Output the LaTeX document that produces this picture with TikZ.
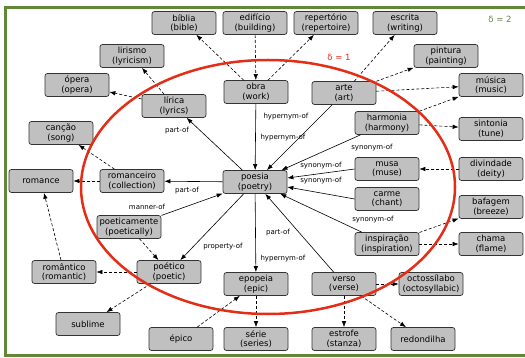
\documentclass[tikz,border=0pt]{standalone}
\usepackage{fontspec}
\setmainfont{DejaVu Sans}
\usepackage{tikz}
\usetikzlibrary{arrows.meta}
\definecolor{deltared}{RGB}{228,45,22}
\definecolor{deltagreen}{RGB}{96,136,56}
\definecolor{boxgray}{RGB}{192,192,192}
\tikzset{>={Latex[length=6pt,width=4.5pt]}}
\tikzset{concept/.style = {draw=black!80, fill=boxgray, rounded corners=2.5,
                           line width=0.7, minimum width=64, minimum height=23,
                           inner sep=1, align=center,
                           font=\fontsize{8.5}{9.5}\selectfont}}
\tikzset{rel/.style = {->, line width=0.6}}
\tikzset{assoc/.style = {->, line width=0.6, dash pattern=on 3pt off 2pt}}
\tikzset{lbl/.style = {font=\fontsize{7}{8}\selectfont, inner sep=0}}
\tikzset{delta/.style = {font=\fontsize{8.5}{9.5}\selectfont, inner sep=0}}

\begin{document}
\begin{tikzpicture}[x=1pt, y=-1pt]
          \clip (0, 0) rectangle (525, 358);
          \draw [deltagreen, line width=3] (5.5, 8) rectangle (540, 355);
          \node [delta, text=deltagreen] (d2) at (500, 19) {δ = 2};
          % concepts
          \node [concept] (bible) at (184, 23) {bíblia\\(bible)};
          \node [concept] (building) at (255, 23) {edifício\\(building)};
          \node [concept] (repertoire) at (326, 23) {repertório\\(repertoire)};
          \node [concept] (writing) at (405, 23) {escrita\\(writing)};
          \node [concept] (lyricism) at (132, 56) {lirismo\\(lyricism)};
          \node [concept] (painting) at (446, 56) {pintura\\(painting)};
          \node [concept] (opera) at (77, 85) {ópera\\(opera)};
          \node [concept] (music) at (491, 85) {música\\(music)};
          \node [concept] (work) at (256, 92) {obra\\(work)};
          \node [concept] (art) at (344, 93) {arte\\(art)};
          \node [concept] (lyrics) at (174, 106) {lírica\\(lyrics)};
          \node [concept] (harmony) at (387, 123) {harmonia\\(harmony)};
          \node [concept] (tune) at (491, 129) {sintonia\\(tune)};
          \node [concept] (song) at (61, 133) {canção\\(song)};
          \node [concept] (romance) at (41, 181) {romance};
          \node [concept] (collection) at (132, 181) {romanceiro\\(collection)};
          \node [concept] (poetry) at (255, 182) {poesia\\(poetry)};
          \node [concept] (muse) at (387, 169) {musa\\(muse)};
          \node [concept] (deity) at (491, 169) {divindade\\(deity)};
          \node [concept] (chant) at (387, 199) {carme\\(chant)};
          \node [concept] (breeze) at (491, 207) {bafagem\\(breeze)};
          \node [concept] (poetically) at (129, 227) {poeticamente\\(poetically)};
          \node [concept] (inspiration) at (387, 244) {inspiração\\(inspiration)};
          \node [concept] (flame) at (491, 244) {chama\\(flame)};
          \node [concept] (romantic) at (64, 272) {romântico\\(romantic)};
          \node [concept] (poetic) at (169, 272) {poético\\(poetic)};
          \node [concept] (epic) at (256, 284) {epopeia\\(epic)};
          \node [concept] (verse) at (344, 284) {verso\\(verse)};
          \node [concept] (octo) at (431, 284) {octossílabo\\(octosyllabic)};
          \node [concept] (sublime) at (88, 324) {sublime};
          \node [concept] (epico) at (181, 339) {épico};
          \node [concept] (series) at (256, 339) {série\\(series)};
          \node [concept] (stanza) at (344, 339) {estrofe\\(stanza)};
          \node [concept] (redondilha) at (423, 339) {redondilha};
          % relations of poesia
          \draw [rel] (poetry) -- (lyrics);
          \draw [rel] (work) -- (poetry);
          \draw [rel] (art) -- (poetry);
          \draw [rel] (harmony) -- (poetry);
          \draw [rel] (muse.west) -- (poetry.east |- 0, 178);
          \draw [rel] (chant.west) -- (poetry.east |- 0, 187);
          \draw [rel] (inspiration) -- (poetry);
          \draw [rel] (poetry) -- (collection);
          \draw [rel] (poetically) -- (poetry);
          \draw [rel] (poetry) -- (poetic);
          \draw [rel] (poetry) -- (epic);
          \draw [rel] (verse) -- (poetry);
          \node [lbl] (l1) at (177, 131) {part-of};
          \node [lbl] (l2) at (286, 117) {hypernym-of};
          \node [lbl] (l3) at (283, 138) {hypernym-of};
          \node [lbl] (l4) at (372, 148) {synonym-of};
          \node [lbl] (l5) at (321, 166) {synonym-of};
          \node [lbl] (l6) at (321, 181) {synonym-of};
          \node [lbl] (l7) at (373, 220) {synonym-of};
          \node [lbl] (l8) at (187, 191) {part-of};
          \node [lbl] (l9) at (147, 207) {manner-of};
          \node [lbl] (l10) at (223, 247) {property-of};
          \node [lbl] (l11) at (283, 259) {hypernym-of};
          \node [lbl] (l12) at (278, 233) {part-of};
          % outer links
          \draw [assoc] (work) -- (bible);
          \draw [assoc] (building) -- (work);
          \draw [assoc] (work) -- (repertoire);
          \draw [assoc] (art) -- (writing);
          \draw [assoc] (art) -- (painting);
          \draw [assoc] (art) -- (music);
          \draw [assoc] (harmony) -- (music);
          \draw [assoc] (harmony) -- (tune);
          \draw [assoc] (deity) -- (muse);
          \draw [assoc] (inspiration) -- (breeze);
          \draw [assoc] (inspiration) -- (flame);
          \draw [assoc] (verse) -- (octo);
          \draw [assoc] (verse) -- (stanza);
          \draw [assoc] (verse) -- (redondilha);
          \draw [assoc] (epico) -- (epic);
          \draw [assoc] (epic) -- (series);
          \draw [assoc] (poetic) -- (sublime);
          \draw [assoc] (poetic) -- (romantic);
          \draw [assoc] (romantic) -- (romance);
          \draw [assoc] (collection) -- (romance);
          \draw [assoc] (collection) -- (song);
          \draw [assoc] (poetically) -- (poetic);
          \draw [assoc] (lyrics) -- (lyricism);
          \draw [assoc] (lyrics) -- (opera);
          % distance 1
          \draw [deltared, line width=2.5] (268, 187) ellipse [x radius=187, y radius=127];
          \node [delta, text=deltared] (d1) at (339, 57) {δ = 1};
        \end{tikzpicture}
\end{document}
